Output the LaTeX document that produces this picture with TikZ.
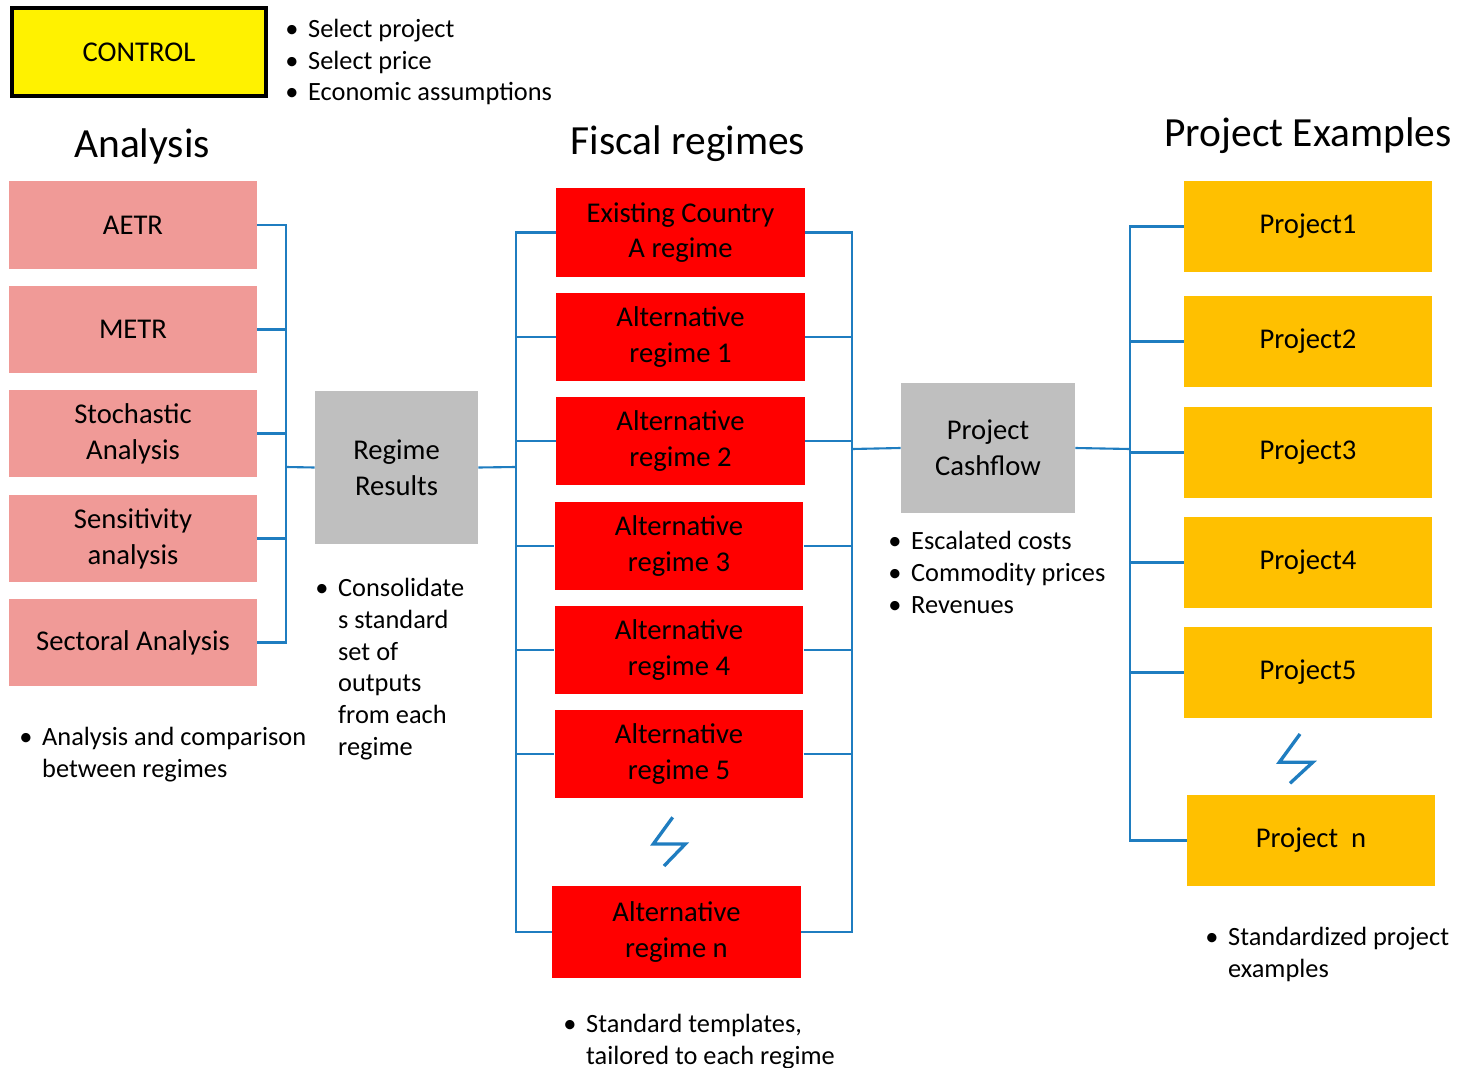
\documentclass[tikz,border=0pt]{standalone}
\usepackage{fontspec}
\setmainfont{Carlito}
\usetikzlibrary{positioning,calc}

\definecolor{linkblue}{RGB}{31,125,192}
\definecolor{salmon}{RGB}{240,154,151}
\definecolor{projorange}{RGB}{255,192,0}
\definecolor{boxgray}{RGB}{191,191,191}

\newcommand{\bl}{\makebox[13pt][l]{\textbullet}}
\newcommand{\ind}{\hspace*{13pt}}

\begin{document}
\begin{tikzpicture}[
    x=0.02cm, y=-0.02cm,
    boxfont/.style={font=\fontsize{16.3}{20.4}\selectfont},
    analysis/.style={rectangle, fill=salmon, minimum width=4.96cm, minimum height=1.76cm, inner sep=0, align=center, boxfont},
    regime/.style={rectangle, fill=red, minimum width=4.97cm, minimum height=1.77cm, inner sep=0, align=center, boxfont},
    project/.style={rectangle, fill=projorange, minimum width=4.96cm, minimum height=1.82cm, inner sep=0, align=center, boxfont},
    summary/.style={rectangle, fill=boxgray, inner sep=0, align=center, boxfont},
    control/.style={rectangle, draw, line width=2.3pt, fill=yellow, minimum width=5.08cm, minimum height=1.76cm, inner sep=0, boxfont},
    heading/.style={font=\fontsize{23.6}{28}\selectfont, inner sep=0},
    notes/.style={align=left, inner sep=0, font=\fontsize{15}{18}\selectfont},
    link/.style={draw=linkblue, line width=1.2pt},
    bolt/.style={draw=linkblue, line width=1.9pt}
]
\useasboundingbox (0,0) rectangle (1461,1068);

% Control
\node[control] (control) at (139,52) {CONTROL};
\node[notes, anchor=base west] (ctrlnotes) at (285,101) {\bl Select project\\\bl Select price\\\bl Economic assumptions};

% Headings
\node[heading] (anahead) at (142,146) {Analysis};
\node[heading] (fischead) at (688,144) {Fiscal regimes};
\node[heading] (projhead) at (1308,136) {Project Examples};

% Analysis
\node[analysis] (aetr) at (133,225) {AETR};
\node[analysis] (metr) at (133,329.5) {METR};
\node[analysis] (stoch) at (133,433.5) {Stochastic\\Analysis};
\node[analysis] (sens) at (133,538.5) {Sensitivity\\analysis};
\node[analysis] (sect) at (133,642.5) {Sectoral Analysis};
\node[notes, anchor=base west] (ananotes) at (19,777) {\bl Analysis and comparison\\\ind between regimes};

% Regime results
\node[summary, minimum width=3.26cm, minimum height=3.06cm] (results) at (396.5,467.5) {Regime\\Results};
\node[notes, anchor=base west] (resnotes) at (315,755) {\bl Consolidate\\\ind s standard\\\ind set of\\\ind outputs\\\ind from each\\\ind regime};

% Fiscal regimes
\node[regime] (exist) at (680.5,232.5) {Existing Country\\A regime};
\node[regime] (alt1) at (680.5,337) {Alternative\\regime 1};
\node[regime] (alt2) at (680.5,441) {Alternative\\regime 2};
\node[regime] (alt3) at (679,546) {Alternative\\regime 3};
\node[regime] (alt4) at (679,650) {Alternative\\regime 4};
\node[regime] (alt5) at (679,754) {Alternative\\regime 5};
\node[regime, minimum height=1.84cm] (altn) at (676.5,932) {Alternative\\regime n};
\draw[bolt] (672.7,817.3) -- (653.3,844) -- (685.3,844) -- (664,866);
\node[notes, anchor=base west] (regnotes) at (563,1064) {\bl Standard templates,\\\ind tailored to each regime};

% Project cashflow
\node[summary, minimum width=3.48cm, minimum height=2.6cm] (cash) at (988,448) {Project\\Cashflow};
\node[notes, anchor=base west] (cashnotes) at (888,613) {\bl Escalated costs\\\bl Commodity prices\\\bl Revenues};

% Projects
\node[project] (p1) at (1308,226.5) {Project1};
\node[project] (p2) at (1308,341.5) {Project2};
\node[project] (p3) at (1308,452.5) {Project3};
\node[project] (p4) at (1308,562.5) {Project4};
\node[project] (p5) at (1308,672.5) {Project5};
\node[project] (pn) at (1311,840.5) {Project~ n};
\draw[bolt] (1300,734) -- (1279.3,762.3) -- (1312.7,762.3) -- (1290,783.3);
\node[notes, anchor=base west] (projnotes) at (1205,977) {\bl Standardized project\\\ind examples};

% Analysis to regime results
\coordinate (abus) at (286,467);
\foreach \a in {aetr,metr,stoch,sens,sect}
    \draw[link] (\a.east) -| (abus);
\draw[link] (abus) -- (results.west);

% Regime results to regimes
\coordinate (rbus) at (516,467);
\draw[link] (results.east) -- (rbus);
\foreach \r in {exist,alt1,alt2,alt3,alt4,alt5,altn}
    \draw[link] (rbus) |- (\r.west);

% Regimes to project cashflow
\coordinate (cbus) at (852,449);
\foreach \r in {exist,alt1,alt2,alt3,alt4,alt5,altn}
    \draw[link] (\r.east) -| (cbus);
\draw[link] (cbus) -- (cash.west);

% Project cashflow to projects
\coordinate (pbus) at (1130,449);
\draw[link] (cash.east) -- (pbus);
\foreach \p in {p1,p2,p3,p4,p5,pn}
    \draw[link] (pbus) |- (\p.west);

\end{tikzpicture}
\end{document}
